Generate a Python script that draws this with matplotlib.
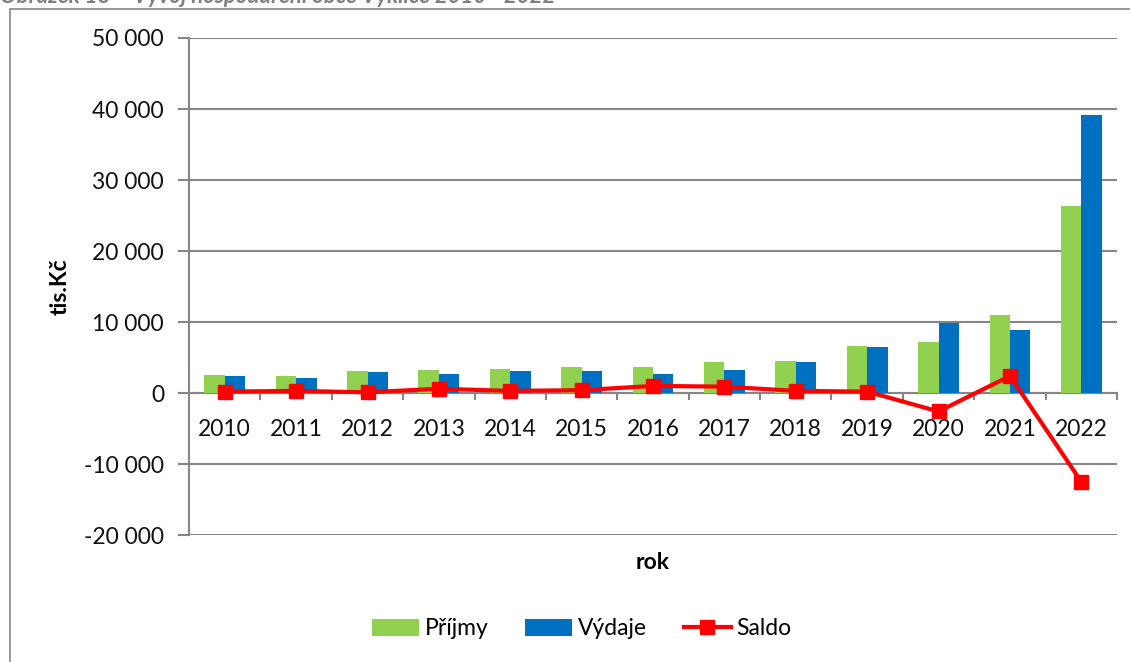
"""Vývoj hospodaření obce - příjmy, výdaje a saldo."""

import numpy as np
import matplotlib
matplotlib.use("Agg")
import matplotlib.pyplot as plt
from matplotlib.patches import Rectangle
from matplotlib.ticker import FuncFormatter

plt.rcParams['font.family'] = ['Lato', 'DejaVu Sans']

years = ['2010', '2011', '2012', '2013', '2014', '2015', '2016',
         '2017', '2018', '2019', '2020', '2021', '2022']
prijmy = [2600, 2400, 3100, 3300, 3400, 3700, 3700, 4400, 4500, 6650, 7200, 11000, 26300]
vydaje = [2400, 2100, 3000, 2700, 3100, 3100, 2700, 3300, 4300, 6500, 9800, 8900, 39100]
saldo = [200, 300, 100, 600, 300, 400, 1000, 900, 300, 200, -2600, 2400, -12500]
yticks = [-20000, -10000, 0, 10000, 20000, 30000, 40000, 50000]

GREEN = '#92d050'
BLUE = '#0070c0'
RED = '#ff0000'
GRID = '#868686'

fig = plt.figure(figsize=(11.3, 6.62), dpi=100)
ax = fig.add_axes([0.1673, 0.1918, 0.8212, 0.7508])

x = np.arange(len(years))
w = 0.286
b1 = ax.bar(x - w / 2, prijmy, w, color=GREEN, label='Příjmy', zorder=2)
b2 = ax.bar(x + w / 2, vydaje, w, color=BLUE, label='Výdaje', zorder=2)
l1, = ax.plot(x, saldo, color=RED, lw=3, marker='s', ms=10, label='Saldo', zorder=3)

ax.set_xlim(-0.5, len(years) - 0.5)
ax.set_ylim(-20000, 50000)
ax.set_yticks(yticks)
ax.yaxis.set_major_formatter(FuncFormatter(lambda v, p: '{:,.0f}'.format(v).replace(',', ' ')))
ax.yaxis.grid(True, color=GRID, lw=1.5, zorder=0)
ax.set_axisbelow(True)

# category axis sits at zero, ticks between categories
ax.axhline(0, color=GRID, lw=1.5, zorder=1)
for b in np.arange(0.5, len(years), 1.0):
    ax.plot([b, b], [0, -800], color=GRID, lw=1.5, clip_on=False, zorder=1)
ax.set_xticks([])
for i, yr in enumerate(years):
    ax.text(i, -3600, yr, ha='center', va='top', fontsize=16.5, color='#111111')

for s in ['top', 'right', 'bottom']:
    ax.spines[s].set_visible(False)
ax.spines['left'].set_color(GRID)
ax.spines['left'].set_linewidth(1.5)
ax.tick_params(axis='y', length=8, width=1.5, color=GRID, labelsize=16.5,
               labelcolor='#111111', pad=10)

ax.set_ylabel('tis.Kč', fontsize=16.5, fontweight='bold', labelpad=10)
ax.set_xlabel('rok', fontsize=16.5, fontweight='bold')
ax.xaxis.set_label_coords(0.5, -0.035)

ax.legend([b1, b2, l1], ['Příjmy', 'Výdaje', 'Saldo'], loc='center',
          bbox_to_anchor=(0.515, 0.05), bbox_transform=fig.transFigure,
          ncol=3, frameon=False, fontsize=16.5, handlelength=2.05, handleheight=0.75,
          columnspacing=1.6, handletextpad=0.25)

# outer chart frame and the caption above it, cut off by the picture edge
fig.patches.append(Rectangle((10 / 1130, -0.1), 1.2, 1.1 - 9 / 662, transform=fig.transFigure,
                             fill=False, edgecolor=GRID, lw=1.2))
fig.text(0.0, 1 - 3 / 662, 'Obrázek 18 – Vývoj hospodaření obce Vyklice 2010 - 2022',
         fontsize=16, fontweight='bold', fontstyle='italic', color='#7f7f7f',
         ha='left', va='baseline')

fig.savefig('out.png', dpi=100)
